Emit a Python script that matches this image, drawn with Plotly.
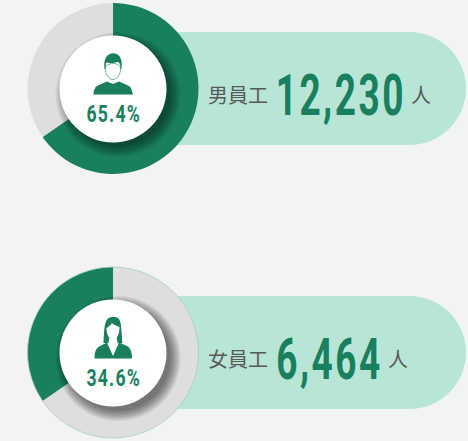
import plotly.graph_objects as go

labels = ["男員工", "女員工"]
counts = ["12,230", "6,464"]
shares = [65.4, 34.6]
unit = "人"
GREEN, GREY, MINT, BG, TXT = "#1a7f5f", "#dedede", "#b8e6d6", "#f2f4f4", "#595959"

fig = go.Figure()
shapes, ann = [], []
CX, R, RI, W = 113, 85.5, 53.5, 468
cys = [88.5, 352.5]
pill_tops = [32, 296]
shadow_alpha = [0.05, 0.065]


def circle(cx, cy, r, **kw):
    return dict(type="circle", x0=cx - r, x1=cx + r, y0=cy - r, y1=cy + r, xref="x", yref="y", **kw)


def path(d, fill, line=None, lw=0):
    return dict(type="path", path=d, xref="x", yref="y", fillcolor=fill, layer="above",
                line=dict(color=line or fill, width=lw))


for i, (cy, top) in enumerate(zip(cys, pill_tops)):
    h = 113
    r = h / 2
    shapes.append(dict(type="path", layer="below", xref="x", yref="y", fillcolor=MINT, line=dict(width=0),
                       path=f"M 150 {top} L {466 - r} {top} C {466 - r * .45} {top} 466 {top + r * .45} 466 {top + r} "
                            f"C 466 {top + r * 1.55} {466 - r * .45} {top + h} {466 - r} {top + h} L 150 {top + h} Z"))
    vals = [shares[i], 100 - shares[i]] if i == 0 else [100 - shares[i], shares[i]]
    cols = [GREEN, GREY] if i == 0 else [GREY, GREEN]
    fig.add_trace(go.Pie(values=vals, marker=dict(colors=cols, line=dict(width=0)), sort=False, direction="clockwise",
                         rotation=0, hole=0.6, textinfo="none", showlegend=False, hoverinfo="skip",
                         domain=dict(x=[(CX - R) / W, (CX + R) / W],
                                     y=[1 - (cy + R) / 441, 1 - (cy - R) / 441])))
    if i == 1:
        shapes.append(circle(CX, cy, R, layer="above", fillcolor="rgba(0,0,0,0)", line=dict(color="#a5cfc0", width=0.8)))
    for k in range(9):
        shapes.append(circle(CX + 5, cy + 6, RI + 9 - k * 1.3, layer="above",
                             fillcolor=f"rgba(0,0,0,{shadow_alpha[i]})", line=dict(width=0)))
    shapes.append(circle(CX, cy + .5, RI, layer="above", fillcolor="#ffffff", line=dict(width=0)))
    ann += [
        dict(x=CX, y=cy + 25, text=f"{shares[i]}%", font=dict(family="Roboto", size=24.5, weight=700, color=GREEN)),
        dict(x=238, y=top + 62, text=labels[i], font=dict(family="Noto Sans CJK TC", size=20, color=TXT)),
        dict(x=[341, 329.5][i], y=top + 63, text=counts[i], font=dict(family="Roboto", size=57, weight=700, color=GREEN)),
        dict(x=[421, 398][i], y=top + 62, text=unit, font=dict(family="Noto Sans CJK TC", size=20, color=TXT)),
    ]

body = "M 93.3 94.5 C 94 90 95 86.5 98 85.5 L 107 81.5 L 113 84 L 119 81.5 L 128 85.5 C 131 86.5 132 90 133 94.5 Z"
head = "M 105.5 68 C 105.5 75 109 79.5 113 79.5 C 117 79.5 120.5 75 120.5 68 C 120.5 62 105.5 62 105.5 68 Z"
hair = "M 104.5 69 C 103 58 108 53.3 113 53.3 C 119 53.3 123 58 121.5 69 L 120.5 69 C 120.5 64.5 119.5 62 117 62 C 114 63.5 108 63 106.5 62.5 C 105.5 64 105.5 67 105.5 69 Z"
shapes += [path(body, GREEN), path(head, "#ffffff", GREEN, 0.6), path(hair, GREEN)]

w_hair = "M 103.5 343 C 104 337 103.5 322 108 318.5 C 111 316.5 117 316.5 119 319 C 122 323 121.5 337 122.5 343 Z"
w_body = "M 94.5 358.5 C 94.5 352 96 348 100 346 L 107 342.5 L 113 356 L 119 342.5 L 127 346 C 130.5 348 132 352 132 358.5 Z"
w_face = "M 106.5 328 C 106.5 335 109 339 113 339 C 117 339 119.5 335 119.5 327 C 116 326 113 324 112 323 C 110 326 108 327 106.5 328 Z"
w_neck = "M 109.5 337 L 116.5 337 L 117.5 342.5 L 113 351 L 108.5 342.5 Z"
shapes += [path(w_hair, GREEN), path(w_body, GREEN), path(w_neck, "#ffffff"), path(w_face, "#ffffff")]

fig.update_layout(
    width=468, height=441, margin=dict(l=0, r=0, t=0, b=0), autosize=False,
    paper_bgcolor=BG, plot_bgcolor=BG,
    xaxis=dict(range=[0, 468], visible=False, fixedrange=True),
    yaxis=dict(range=[441, 0], visible=False, fixedrange=True),
    shapes=shapes,
    annotations=[dict(a, xref="x", yref="y", showarrow=False, xanchor="center", yanchor="middle") for a in ann],
)
fig.add_trace(go.Scatter(x=[0], y=[0], mode="markers", marker=dict(opacity=0), hoverinfo="skip", showlegend=False))

POST = """
document.body.style.margin = '0';
document.body.style.background = '#f2f4f4';
document.querySelectorAll('text.annotation-text').forEach(function (t) {
  if ((t.style.fontFamily || '').indexOf('Roboto') < 0) return;
  var big = parseFloat(t.style.fontSize) > 40;
  t.style.letterSpacing = big ? '3.8px' : '1.6px';
  t.style.transformBox = 'fill-box';
  t.style.transformOrigin = 'center';
  t.style.transform = 'scaleX(' + (big ? 0.65 : 0.72) + ')';
});
"""
fig.write_html("out.html", config=dict(displayModeBar=False), post_script=POST)
